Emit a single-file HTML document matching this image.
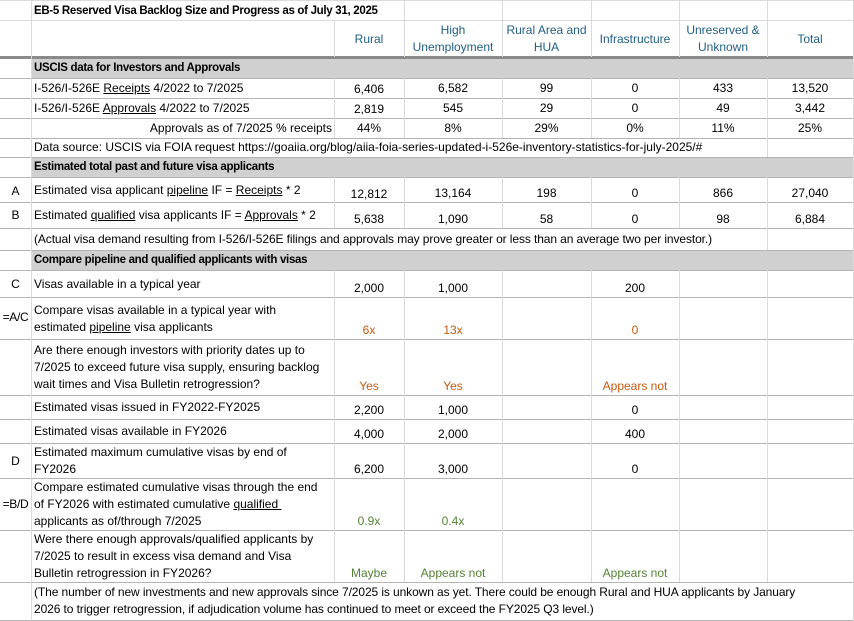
<!DOCTYPE html>
<html><head><meta charset="utf-8"><style>
body{margin:0;background:#fff;width:854px;height:621px;overflow:hidden;position:relative;font-family:"Liberation Sans",Arial,sans-serif;font-size:12px;color:#000}
.h{position:absolute;height:1px;background:#b4b4b4}
.v{position:absolute;width:1px;background:#dadada}
.g{position:absolute;background:#d0d0d0;left:32px;width:822px}
.t{position:absolute;line-height:17px;white-space:nowrap}
.c{text-align:center}
.b{font-weight:bold;font-size:11.5px;letter-spacing:-0.3px}
.hd{color:#1f5f87}
.o{color:#c55a11}
.gr{color:#548235}
u{text-decoration:underline}
</style></head><body>
<div class="g" style="top:58px;height:20px"></div>
<div class="g" style="top:158px;height:19px"></div>
<div class="g" style="top:251px;height:19px"></div>

<div class="h" style="left:0;width:854px;top:0;background:#dadada"></div>
<div class="h" style="left:0;width:854px;top:20px;background:#dadada"></div>
<div class="h" style="left:0;width:854px;top:56px;height:3px;background:#8a8a8a"></div>
<div class="h" style="left:0;width:854px;top:78px"></div>
<div class="h" style="left:0;width:854px;top:98px"></div>
<div class="h" style="left:0;width:854px;top:118px"></div>
<div class="h" style="left:0;width:854px;top:138px"></div>
<div class="h" style="left:0;width:854px;top:157px"></div>
<div class="h" style="left:0;width:854px;top:177px"></div>
<div class="h" style="left:0;width:854px;top:202px"></div>
<div class="h" style="left:0;width:854px;top:228px"></div>
<div class="h" style="left:0;width:854px;top:250px"></div>
<div class="h" style="left:0;width:854px;top:270px"></div>
<div class="h" style="left:0;width:854px;top:297px"></div>
<div class="h" style="left:0;width:854px;top:339px"></div>
<div class="h" style="left:0;width:854px;top:395px"></div>
<div class="h" style="left:0;width:854px;top:419px"></div>
<div class="h" style="left:0;width:854px;top:443px"></div>
<div class="h" style="left:0;width:854px;top:478px"></div>
<div class="h" style="left:0;width:854px;top:530px"></div>
<div class="h" style="left:0;width:854px;top:582px"></div>
<div class="h" style="left:0;width:854px;top:620px"></div>

<div class="v" style="left:31px;top:0;height:621px"></div>
<div class="v" style="left:853px;top:0;height:621px"></div>
<div class="v" style="left:334px;top:20px;height:37px"></div>
<div class="v" style="left:334px;top:78px;height:60px"></div>
<div class="v" style="left:334px;top:177px;height:51px"></div>
<div class="v" style="left:334px;top:270px;height:312px"></div>
<div class="v" style="left:404px;top:0;height:57px"></div>
<div class="v" style="left:404px;top:78px;height:60px"></div>
<div class="v" style="left:404px;top:177px;height:51px"></div>
<div class="v" style="left:404px;top:270px;height:312px"></div>
<div class="v" style="left:502px;top:0;height:57px"></div>
<div class="v" style="left:502px;top:78px;height:60px"></div>
<div class="v" style="left:502px;top:177px;height:51px"></div>
<div class="v" style="left:502px;top:270px;height:312px"></div>
<div class="v" style="left:591px;top:0;height:57px"></div>
<div class="v" style="left:591px;top:78px;height:60px"></div>
<div class="v" style="left:591px;top:177px;height:51px"></div>
<div class="v" style="left:591px;top:270px;height:312px"></div>
<div class="v" style="left:679px;top:0;height:57px"></div>
<div class="v" style="left:679px;top:78px;height:60px"></div>
<div class="v" style="left:679px;top:177px;height:51px"></div>
<div class="v" style="left:679px;top:270px;height:312px"></div>
<div class="v" style="left:767px;top:0;height:57px"></div>
<div class="v" style="left:767px;top:78px;height:79px"></div>
<div class="v" style="left:767px;top:177px;height:73px"></div>
<div class="v" style="left:767px;top:270px;height:312px"></div>

<div class="t b" style="left:34px;top:3px">EB-5 Reserved Visa Backlog Size and Progress as of July 31, 2025</div>

<div class="t c hd" style="left:334px;width:70px;top:31px">Rural</div>
<div class="t c hd" style="left:404px;width:98px;top:22px">High<br>Unemployment</div>
<div class="t c hd" style="left:502px;width:89px;top:22px">Rural Area and<br>HUA</div>
<div class="t c hd" style="left:591px;width:88px;top:31px">Infrastructure</div>
<div class="t c hd" style="left:679px;width:88px;top:22px">Unreserved &amp;<br>Unknown</div>
<div class="t c hd" style="left:767px;width:86px;top:31px">Total</div>

<div class="t b" style="left:34px;top:60px">USCIS data for Investors and Approvals</div>
<div class="t" style="left:34px;top:80px">I-526/I-526E <u>Receipts</u> 4/2022 to 7/2025</div>
<div class="t" style="left:34px;top:100px">I-526/I-526E <u>Approvals</u> 4/2022 to 7/2025</div>
<div class="t" style="left:34px;width:298px;top:120px;text-align:right">Approvals as of 7/2025 % receipts</div>
<div class="t" style="left:34px;top:139px">Data source: USCIS via FOIA request https://goaiia.org/blog/aiia-foia-series-updated-i-526e-inventory-statistics-for-july-2025/#</div>

<div class="t c" style="left:334px;width:70px;top:81px">6,406</div>
<div class="t c" style="left:404px;width:98px;top:80px">6,582</div>
<div class="t c" style="left:502px;width:89px;top:80px">99</div>
<div class="t c" style="left:591px;width:88px;top:80px">0</div>
<div class="t c" style="left:679px;width:88px;top:80px">433</div>
<div class="t c" style="left:767px;width:86px;top:80px">13,520</div>
<div class="t c" style="left:334px;width:70px;top:101px">2,819</div>
<div class="t c" style="left:404px;width:98px;top:100px">545</div>
<div class="t c" style="left:502px;width:89px;top:100px">29</div>
<div class="t c" style="left:591px;width:88px;top:100px">0</div>
<div class="t c" style="left:679px;width:88px;top:100px">49</div>
<div class="t c" style="left:767px;width:86px;top:100px">3,442</div>
<div class="t c" style="left:334px;width:70px;top:120px">44%</div>
<div class="t c" style="left:404px;width:98px;top:120px">8%</div>
<div class="t c" style="left:502px;width:89px;top:120px">29%</div>
<div class="t c" style="left:591px;width:88px;top:120px">0%</div>
<div class="t c" style="left:679px;width:88px;top:120px">11%</div>
<div class="t c" style="left:767px;width:86px;top:120px">25%</div>

<div class="t b" style="left:34px;top:159px">Estimated total past and future visa applicants</div>
<div class="t c" style="left:0;width:31px;top:183px">A</div>
<div class="t" style="left:34px;top:182px">Estimated visa applicant <u>pipeline</u> IF = <u>Receipts</u> * 2</div>
<div class="t c" style="left:334px;width:70px;top:186px">12,812</div>
<div class="t c" style="left:404px;width:98px;top:185px">13,164</div>
<div class="t c" style="left:502px;width:89px;top:185px">198</div>
<div class="t c" style="left:591px;width:88px;top:185px">0</div>
<div class="t c" style="left:679px;width:88px;top:185px">866</div>
<div class="t c" style="left:767px;width:86px;top:185px">27,040</div>
<div class="t c" style="left:0;width:31px;top:207px">B</div>
<div class="t" style="left:34px;top:207px">Estimated <u>qualified</u> visa applicants IF = <u>Approvals</u> * 2</div>
<div class="t c" style="left:334px;width:70px;top:211px">5,638</div>
<div class="t c" style="left:404px;width:98px;top:211px">1,090</div>
<div class="t c" style="left:502px;width:89px;top:211px">58</div>
<div class="t c" style="left:591px;width:88px;top:211px">0</div>
<div class="t c" style="left:679px;width:88px;top:211px">98</div>
<div class="t c" style="left:767px;width:86px;top:211px">6,884</div>
<div class="t" style="left:34px;top:231px;letter-spacing:-0.1px">(Actual visa demand resulting from I-526/I-526E filings and approvals may prove greater or less than an average two per investor.)</div>

<div class="t b" style="left:34px;top:252px">Compare pipeline and qualified applicants with visas</div>
<div class="t c" style="left:0;width:31px;top:276px">C</div>
<div class="t" style="left:34px;top:276px">Visas available in a typical year</div>
<div class="t c" style="left:334px;width:70px;top:280px">2,000</div>
<div class="t c" style="left:404px;width:98px;top:280px">1,000</div>
<div class="t c" style="left:591px;width:88px;top:280px">200</div>

<div class="t c" style="left:0;width:31px;top:309px;letter-spacing:-0.3px">=A/C</div>
<div class="t" style="left:34px;top:302px">Compare visas available in a typical year with<br>estimated <u>pipeline</u> visa applicants</div>
<div class="t c o" style="left:334px;width:70px;top:322px">6x</div>
<div class="t c o" style="left:404px;width:98px;top:322px">13x</div>
<div class="t c o" style="left:591px;width:88px;top:322px">0</div>

<div class="t" style="left:34px;top:342px">Are there enough investors with priority dates up to<br>7/2025 to exceed future visa supply, ensuring backlog<br>wait times and Visa Bulletin retrogression?</div>
<div class="t c o" style="left:334px;width:70px;top:378px">Yes</div>
<div class="t c o" style="left:404px;width:98px;top:378px">Yes</div>
<div class="t c o" style="left:591px;width:88px;top:378px">Appears not</div>

<div class="t" style="left:34px;top:399px">Estimated visas issued in FY2022-FY2025</div>
<div class="t c" style="left:334px;width:70px;top:402px">2,200</div>
<div class="t c" style="left:404px;width:98px;top:402px">1,000</div>
<div class="t c" style="left:591px;width:88px;top:402px">0</div>
<div class="t" style="left:34px;top:423px">Estimated visas available in FY2026</div>
<div class="t c" style="left:334px;width:70px;top:426px">4,000</div>
<div class="t c" style="left:404px;width:98px;top:426px">2,000</div>
<div class="t c" style="left:591px;width:88px;top:426px">400</div>

<div class="t c" style="left:0;width:31px;top:453px">D</div>
<div class="t" style="left:34px;top:444px">Estimated maximum cumulative visas by end of<br>FY2026</div>
<div class="t c" style="left:334px;width:70px;top:461px">6,200</div>
<div class="t c" style="left:404px;width:98px;top:461px">3,000</div>
<div class="t c" style="left:591px;width:88px;top:461px">0</div>

<div class="t c" style="left:0;width:31px;top:496px;letter-spacing:-0.3px">=B/D</div>
<div class="t" style="left:34px;top:479px">Compare estimated cumulative visas through the end<br>of FY2026 with estimated cumulative <u>qualified&nbsp;</u><br>applicants as of/through 7/2025</div>
<div class="t c gr" style="left:334px;width:70px;top:513px">0.9x</div>
<div class="t c gr" style="left:404px;width:98px;top:513px">0.4x</div>

<div class="t" style="left:34px;top:531px">Were there enough approvals/qualified applicants by<br>7/2025 to result in excess visa demand and Visa<br>Bulletin retrogression in FY2026?</div>
<div class="t c gr" style="left:334px;width:70px;top:565px">Maybe</div>
<div class="t c gr" style="left:404px;width:98px;top:565px">Appears not</div>
<div class="t c gr" style="left:591px;width:88px;top:565px">Appears not</div>

<div class="t" style="left:34px;top:584px;letter-spacing:-0.1px">(The number of new investments and new approvals since 7/2025 is unkown as yet. There could be enough Rural and HUA applicants by January<br>2026 to trigger retrogression, if adjudication volume has continued to meet or exceed the FY2025 Q3 level.)</div>
</body></html>
